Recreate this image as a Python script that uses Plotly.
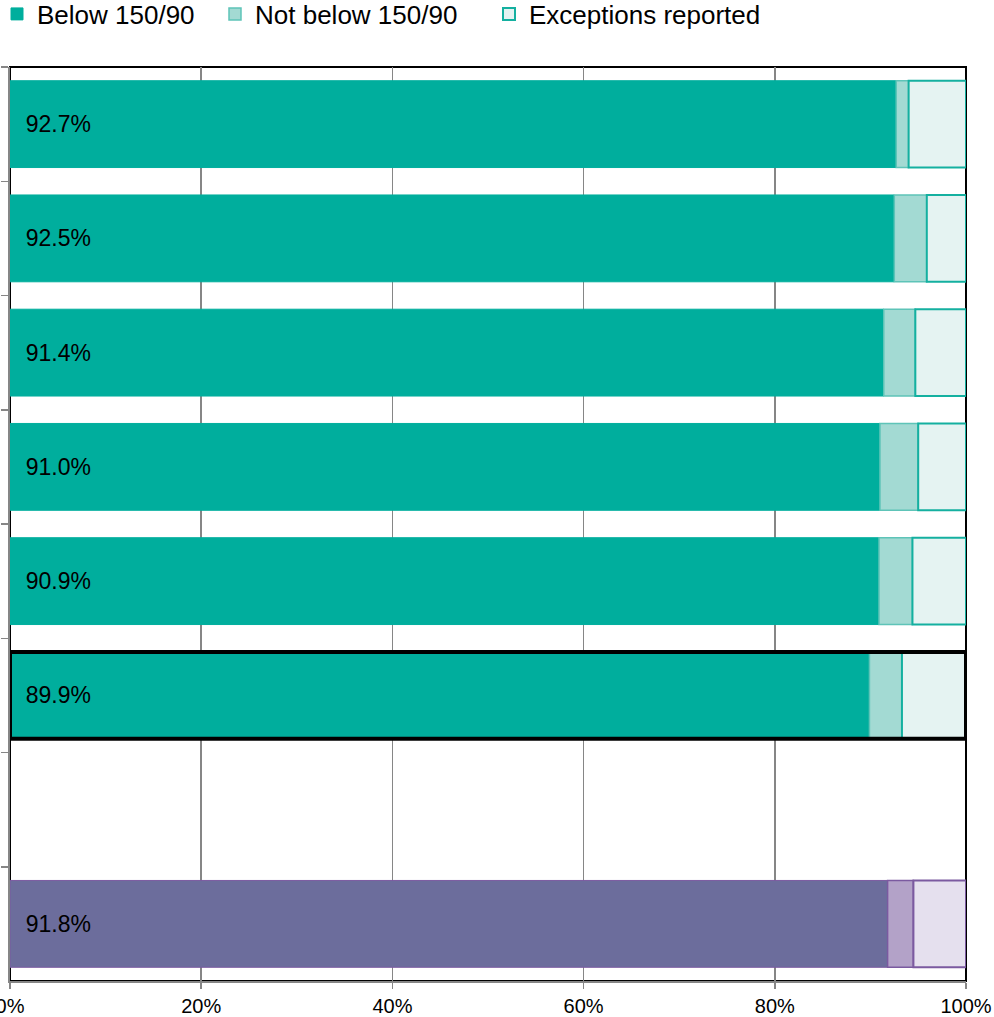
import plotly.graph_objects as go

# ---- data ----
rows = ["r1", "r2", "r3", "r4", "r5", "r6", "gap", "r8"]
below = [92.7, 92.5, 91.4, 91.0, 90.9, 89.9, None, 91.8]
not_below = [1.3, 3.4, 3.3, 4.0, 3.5, 3.4, None, 2.7]
exceptions = [6.0, 4.1, 5.3, 5.0, 5.6, 6.7, None, 5.5]
group = ["teal", "teal", "teal", "teal", "teal", "teal", None, "purple"]
highlight = [False, False, False, False, False, True, False, False]
series_names = ["Below 150/90", "Not below 150/90", "Exceptions reported"]
x_ticks = [0, 20, 40, 60, 80, 100]
x_tick_labels = ["0%", "20%", "40%", "60%", "80%", "100%"]

# ---- styles ----
FONT = "Liberation Sans, Arial, sans-serif"
fill = {
    "teal": ["#00AE9D", "#A3DAD3", "#E5F3F2"],
    "purple": ["#6C6D9C", "#B3A2C8", "#E5E0EE"],
}
edge = {
    "teal": ["#00AE9D", "#5EC4B8", "#14B0A0"],
    "purple": ["#7B5AA0", "#7B5AA0", "#7B5AA0"],
}
edge_w = [1, 1.5, 2]

def seg_colors(i):
    return [fill[g][i] if g else "rgba(0,0,0,0)" for g in group]

def seg_lines(i):
    return [edge[g][i] if g else "rgba(0,0,0,0)" for g in group]

bases = [
    [0 if v is not None else None for v in below],
    [b for b in below],
    [(b + n) if b is not None else None for b, n in zip(below, not_below)],
]
values = [below, not_below, exceptions]

fig = go.Figure()
legend_ids = ["legend", "legend2", "legend3"]
for i in range(3):
    kw = {}
    if i == 0:
        kw = dict(
            text=[("  %.1f%%" % v) if v is not None else "" for v in below],
            textposition="inside",
            insidetextanchor="start",
            textangle=0,
            constraintext="none",
            insidetextfont=dict(family=FONT, size=23, color="#000000"),
        )
    fig.add_trace(go.Bar(
        y=rows, x=values[i], base=bases[i], orientation="h",
        name=series_names[i], legend=legend_ids[i],
        marker=dict(color=seg_colors(i),
                    line=dict(color=seg_lines(i), width=edge_w[i])),
        hoverinfo="skip", **kw))

# outline for the highlighted row (whole stacked bar)
totals = [(b + n + e) if b is not None else None
          for b, n, e in zip(below, not_below, exceptions)]
fig.add_trace(go.Bar(
    y=rows, x=[t if h else None for t, h in zip(totals, highlight)],
    base=[0 if h else None for h in highlight], orientation="h",
    marker=dict(color="rgba(0,0,0,0)", line=dict(color="#000000", width=4)),
    showlegend=False, hoverinfo="skip"))

W, H = 994, 1017
ML, MR, MT, MB = 10, 28, 67, 36
pw, ph = W - ML - MR, H - MT - MB

def px_x(p):
    return (p - ML) / pw

def px_y(p):
    return 1 + (MT - p) / ph

leg_common = dict(orientation="h", yanchor="middle", xanchor="left",
                  bgcolor="rgba(0,0,0,0)", borderwidth=0,
                  font=dict(family=FONT, size=26, color="#000000"))

fig.update_layout(
    width=W, height=H,
    margin=dict(l=ML, r=MR, t=MT, b=MB, autoexpand=False),
    paper_bgcolor="white", plot_bgcolor="white",
    barmode="overlay", bargap=0.24,
    font=dict(family=FONT, color="#000000"),
    legend=dict(x=px_x(-3), y=px_y(14), **leg_common),
    legend2=dict(x=px_x(215), y=px_y(14), **leg_common),
    legend3=dict(x=px_x(489), y=px_y(14), **leg_common),
    xaxis=dict(range=[0, 100], tickvals=x_ticks, ticktext=x_tick_labels,
               showgrid=True, gridcolor="#868686", gridwidth=1.5,
               zeroline=False, showline=True, linecolor="#868686", linewidth=2,
               ticks="outside", ticklen=6, tickcolor="#868686", tickwidth=1.5,
               tickfont=dict(family=FONT, size=20, color="#000000"),
               ticklabeloverflow="allow",
               automargin=False, fixedrange=True),
    yaxis=dict(type="category", categoryorder="array", categoryarray=rows,
               autorange="reversed", tickson="boundaries",
               showticklabels=False, showgrid=False, zeroline=False,
               showline=True, linecolor="#868686", linewidth=2,
               ticks="outside", ticklen=7, tickcolor="#868686", tickwidth=1.5,
               automargin=False, fixedrange=True),
    shapes=[dict(type="rect", xref="paper", yref="paper", x0=0, x1=1, y0=0, y1=1,
                 line=dict(color="#000000", width=2), layer="between")],
)

# the page's default 8px body margin would shift the whole figure; remove it
fig.write_html("out.html",
               config={"displayModeBar": False, "staticPlot": True},
               post_script="document.body.style.margin='0';document.body.style.overflow='hidden';")
